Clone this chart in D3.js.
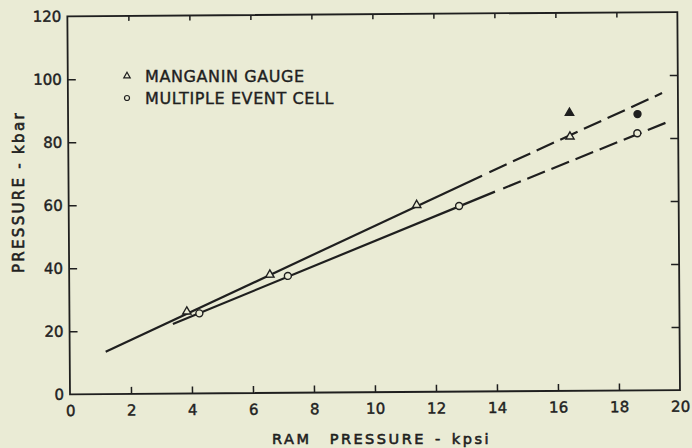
<!DOCTYPE html>
<html>
<head>
<meta charset="utf-8">
<script src="https://cdn.jsdelivr.net/npm/d3@7"></script>
<style>
  html, body { margin: 0; padding: 0; background: #eaebd5; }
  svg { display: block; }
  text { font-family: "DejaVu Sans", sans-serif; fill: #1f1f1f; }
</style>
</head>
<body>
<svg id="chart" width="692" height="448"></svg>
<script>
// ---- data ----
const xTickValues = [0, 2, 4, 6, 8, 10, 12, 14, 16, 18, 20];
const yTickValues = [0, 20, 40, 60, 80, 100, 120];

const manganinX = [3.85, 6.58, 11.41, 16.45];
const manganinY = [26.0, 37.5, 59.3, 80.7];
const manganinFilledX = [16.44];
const manganinFilledY = [88.2];

const mecX = [4.26, 7.17, 12.80, 18.66];
const mecY = [25.4, 37.1, 58.9, 81.6];
const mecFilledX = [18.67];
const mecFilledY = [87.7];

// fitted lines: solid part, dashed extension
const manganinSolidX = [1.18, 13.56];
const manganinSolidY = [13.4, 68.5];
const manganinDashX = [13.80, 19.48];
const manganinDashY = [69.6, 94.3];

const mecSolidX = [3.39, 13.98];
const mecSolidY = [22.1, 63.4];
const mecDashX = [14.25, 19.73];
const mecDashY = [64.4, 85.4];

const legendLabels = ["MANGANIN GAUGE", "MULTIPLE EVENT CELL"];
const xTitle = "RAM  PRESSURE - kpsi";
const yTitle = "PRESSURE - kbar";

// ---- layout ----
const ink = "#1f1f1f";
const bg = "#eaebd5";
const svg = d3.select("#chart");
svg.append("rect").attr("width", 692).attr("height", 448).attr("fill", bg);

const pLeft = 70, pRight = 680, pTop = 16.3, pBottom = 394.3;
const x = d3.scaleLinear().domain([0, 20]).range([pLeft, pRight]);
const y = d3.scaleLinear().domain([0, 120]).range([pBottom, pTop]);

// slight scan tilt
const g = svg.append("g").attr("transform", `rotate(-0.4, ${pLeft}, ${pBottom})`);

const innerX = xTickValues.filter(v => v > 0 && v < 20);
const innerY = yTickValues.filter(v => v > 0 && v < 120);

function styleAxis(sel) {
  sel.select(".domain").remove();
  sel.selectAll(".tick line").attr("stroke", ink).attr("stroke-width", 1.5);
  sel.selectAll(".tick text")
    .style("font-family", '"DejaVu Sans", sans-serif')
    .style("font-size", "15px")
    .attr("fill", ink).attr("stroke", ink).attr("stroke-width", 0.45);
}

// bottom axis
const xAxisG = g.append("g").attr("transform", `translate(0,${pBottom})`)
  .call(d3.axisBottom(x).tickValues(xTickValues).tickSizeInner(-7).tickSizeOuter(0).tickPadding(11)
        .tickFormat(d3.format("d")));
styleAxis(xAxisG);
xAxisG.selectAll(".tick").filter(d => d === 0 || d === 20).select("line").remove();

// left axis
const yAxisG = g.append("g").attr("transform", `translate(${pLeft},0)`)
  .call(d3.axisLeft(y).tickValues(yTickValues).tickSizeInner(-8).tickSizeOuter(0).tickPadding(6)
        .tickFormat(d3.format("d")));
styleAxis(yAxisG);
yAxisG.selectAll(".tick").filter(d => d === 0 || d === 120).select("line").remove();

// top axis (ticks only)
const topG = g.append("g").attr("transform", `translate(0,${pTop})`)
  .call(d3.axisTop(x).tickValues(innerX).tickSizeInner(-5).tickSizeOuter(0).tickFormat(""));
styleAxis(topG);

// right axis (ticks only)
const rightG = g.append("g").attr("transform", `translate(${pRight},0)`)
  .call(d3.axisRight(y).tickValues(innerY).tickSizeInner(-8).tickSizeOuter(0).tickFormat(""));
styleAxis(rightG);

// frame
g.append("rect")
  .attr("x", pLeft).attr("y", pTop)
  .attr("width", pRight - pLeft).attr("height", pBottom - pTop)
  .attr("fill", "none").attr("stroke", ink).attr("stroke-width", 1.8);

// lines
const lineGen = d3.line().x(d => x(d[0])).y(d => y(d[1]));
function drawLine(xs, ys, dashed) {
  g.append("path")
    .datum(xs.map((v, i) => [v, ys[i]]))
    .attr("d", lineGen)
    .attr("fill", "none")
    .attr("stroke", ink)
    .attr("stroke-width", 2.2)
    .attr("stroke-dasharray", dashed ? "19,7" : null);
}
drawLine(manganinSolidX, manganinSolidY, false);
drawLine(manganinDashX, manganinDashY, true);
drawLine(mecSolidX, mecSolidY, false);
drawLine(mecDashX, mecDashY, true);

// markers
const triSym = d3.symbol().type(d3.symbolTriangle).size(30);
const cirSym = d3.symbol().type(d3.symbolCircle).size(38);
function drawMarkers(xs, ys, sym, filled) {
  g.selectAll(null)
    .data(xs.map((v, i) => [v, ys[i]]))
    .enter().append("path")
    .attr("d", sym)
    .attr("transform", d => `translate(${x(d[0])},${y(d[1])})`)
    .attr("fill", filled ? ink : bg)
    .attr("stroke", ink)
    .attr("stroke-width", 1.4);
}
drawMarkers(manganinX, manganinY, triSym, false);
drawMarkers(mecX, mecY, cirSym, false);
drawMarkers(manganinFilledX, manganinFilledY, triSym, true);
drawMarkers(mecFilledX, mecFilledY, cirSym, true);

// legend
const legend = svg.append("g");
legend.append("path").attr("d", d3.symbol().type(d3.symbolTriangle).size(18))
  .attr("transform", "translate(127,76)").attr("fill", bg).attr("stroke", ink).attr("stroke-width", 1.2);
legend.append("path").attr("d", d3.symbol().type(d3.symbolCircle).size(20))
  .attr("transform", "translate(127,98)").attr("fill", bg).attr("stroke", ink).attr("stroke-width", 1.2);
legend.selectAll("text").data(legendLabels).enter().append("text")
  .attr("x", 145).attr("y", (d, i) => i === 0 ? 82 : 103.5)
  .style("font-size", "16px").style("letter-spacing", "0.6px")
  .attr("stroke", ink).attr("stroke-width", 0.4)
  .text(d => d);

// axis titles
svg.append("text")
  .attr("x", 272).attr("y", 444)
  .style("font-size", "14.5px").style("letter-spacing", "2.5px").style("word-spacing", "2px")
  .style("white-space", "pre")
  .attr("stroke", ink).attr("stroke-width", 0.6)
  .text(xTitle);

svg.append("text")
  .attr("transform", "translate(23.5,273) rotate(-90)")
  .attr("x", 0).attr("y", 0)
  .style("font-size", "15px").style("letter-spacing", "2.3px")
  .attr("stroke", ink).attr("stroke-width", 0.6)
  .text(yTitle);
</script>
</body>
</html>
